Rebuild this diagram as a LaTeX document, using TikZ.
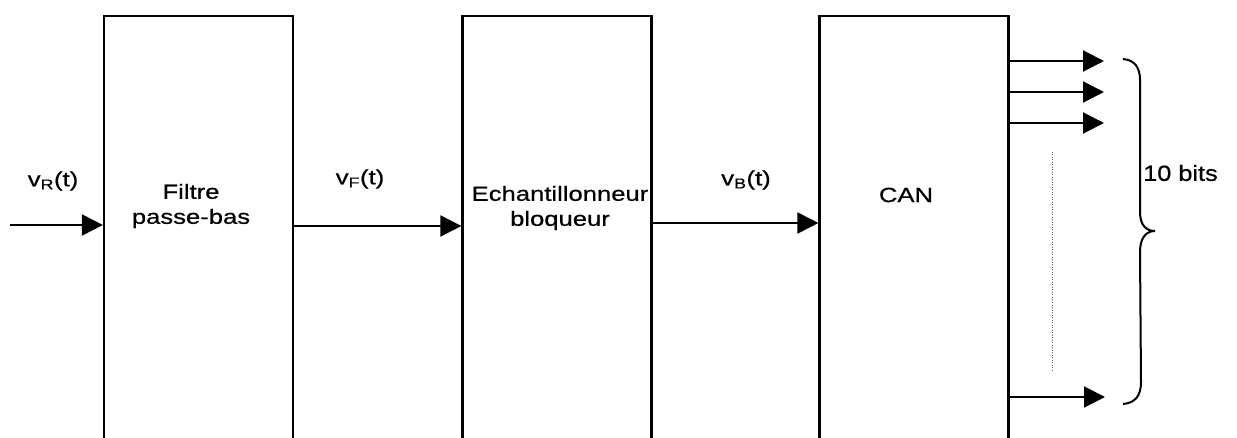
\documentclass[tikz,border=0pt]{standalone}
\usepackage{fontspec}
\setmainfont{Liberation Sans}[FakeStretch=1.25,FakeBold=0.6]
\newfontfamily\bitsfont{Liberation Sans}[FakeStretch=1.15,FakeBold=0.6]
\usetikzlibrary{arrows.meta}
\begin{document}
\begin{tikzpicture}[x=1pt,y=-1pt,
  block/.style={draw,line width=2.2pt,minimum width=189pt,minimum height=444pt,inner sep=0pt},
  lbl/.style={font=\fontsize{20.5}{25}\selectfont,align=center,inner sep=0pt},
  sig/.style={line width=2pt,-{Triangle[length=21pt,width=21pt]}},
]
\useasboundingbox (0,0) rectangle (1237,438);
\clip (0,0) rectangle (1237,438);
\node[block] (f) at (198.5,238) {};
\node[block] (e) at (557,238) {};
\node[block] (c) at (914,238) {};
\node[lbl] (tf) at (191,206) {Filtre\\passe-bas};
\node[lbl] (te) at (560,208) {Echantillonneur\\bloqueur};
\node[lbl] (tc) at (906,195) {CAN};
\node[lbl] (vr) at (53,181) {v\textsubscript{R}(t)};
\node[lbl] (vf) at (360,179) {v\textsubscript{F}(t)};
\node[lbl] (vb) at (746,180) {v\textsubscript{B}(t)};
\coordinate (in) at (10,225);
\draw[sig] (in) -- (f.west |- in);
\draw[sig] (f.east |- 0,226) -- (e.west |- 0,226);
\draw[sig] (e.east |- 0,223) -- (c.west |- 0,223);
\coordinate (o1) at (1104,61);
\coordinate (o2) at (1104,92);
\coordinate (o3) at (1104,123);
\coordinate (o4) at (1105,397);
\foreach \o in {o1,o2,o3,o4} \draw[sig] (c.east |- \o) -- (\o);
\draw[line width=1pt,gray!70!black,dash pattern=on 1pt off 1.5pt] (1052,152) -- (1052,372);
\draw[line width=2pt] (1123,59) .. controls (1135,60) and (1140,68) .. (1140,80) -- (1140,212)
  .. controls (1140,225) and (1146,231) .. (1155,231)
  .. controls (1146,231) and (1140,238) .. (1140,252) -- (1141,382)
  .. controls (1141,396) and (1135,403) .. (1123,404);
\node[anchor=west,inner sep=0pt,font=\bitsfont\fontsize{22}{26}\selectfont] (bits) at (1143,173) {10 bits};
\end{tikzpicture}
\end{document}
